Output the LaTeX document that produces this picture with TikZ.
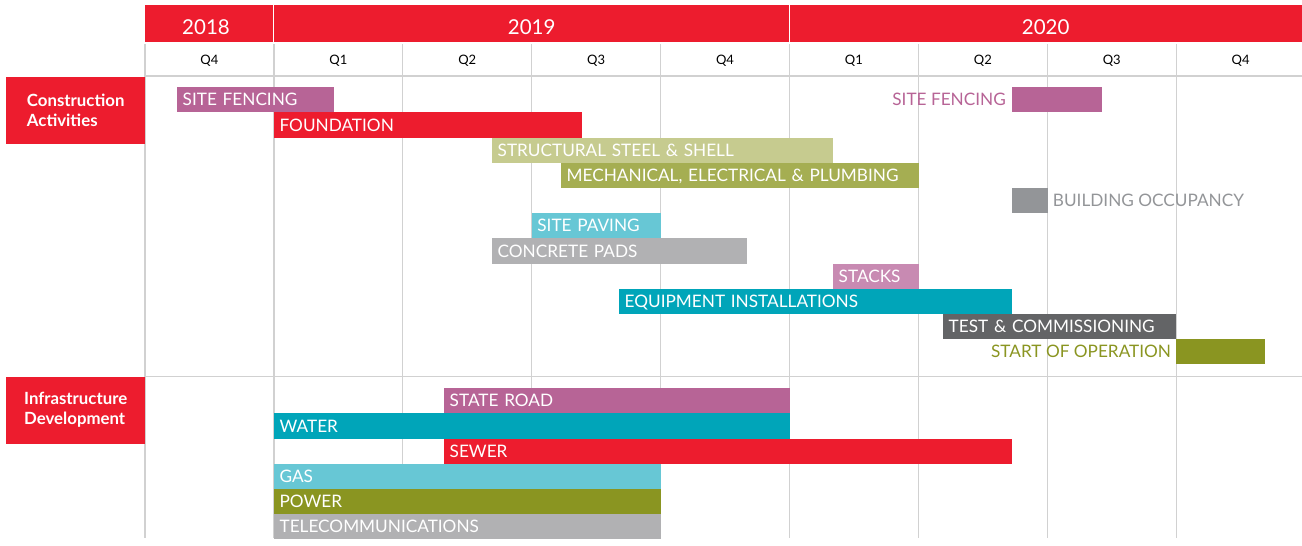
\documentclass[tikz,border=0pt]{standalone}
\usepackage{fontspec}
\setmainfont{Lato}
\definecolor{doDam}{RGB}{237,28,46}
\definecolor{tim}{RGB}{183,100,150}
\definecolor{oliuNhat}{RGB}{198,203,143}
\definecolor{oliu}{RGB}{165,174,82}
\definecolor{xamVua}{RGB}{147,149,152}
\definecolor{xanhNhat}{RGB}{103,199,213}
\definecolor{xamNhat}{RGB}{177,177,179}
\definecolor{hong}{RGB}{200,138,178}
\definecolor{xanhDam}{RGB}{0,165,185}
\definecolor{xamDam}{RGB}{99,100,102}
\definecolor{oliuDam}{RGB}{138,149,33}
\definecolor{xamLuoi}{RGB}{209,209,209}
\begin{document}
\begin{tikzpicture}[x=1pt,y=-1pt,line join=round,
	luoi/.style={draw=xamLuoi,line width=1.3pt},
	nam/.style={text=white,anchor=base,font=\fontsize{20.5}{24}\selectfont},
	quy/.style={text=black,anchor=base,font=\fontsize{13}{15}\selectfont},
	nhom/.style={fill=doDam,text=white,anchor=north west,align=left,inner sep=0pt,
		minimum width=139pt,minimum height=67pt,font=\bfseries\fontsize{16.8}{20}\selectfont},
	thanh/.style={anchor=north west,inner xsep=5.5pt,inner ysep=0pt,minimum height=25.2pt,
		text height=12.3pt,text depth=0pt,text=white,align=left,font=\fontsize{17.2}{19}\selectfont},
	ngoai/.style={inner sep=0pt,text height=12.3pt,text depth=0pt,font=\fontsize{17.2}{19}\selectfont}]
	%==Phần thông số lưới
	\def\xo{145}
	\def\q{128.9}
	\def\h{25.2}
	%==============
	\useasboundingbox (0,0) rectangle (1302,546);
	%==Lưới quý
	\foreach \i in {0,...,8}\draw[luoi] ({\xo+\q*\i},44)--({\xo+\q*\i},538);
	\draw[luoi] (\xo,76)--(1302,76) (\xo,376.5)--(1302,376.5);
	%==Dải năm
	\fill[doDam] (\xo,5) rectangle (1302,42);
	\draw[white,line width=1pt] ({\xo+\q},5)--({\xo+\q},42) ({\xo+5*\q},5)--({\xo+5*\q},42);
	\node[nam] (y2018) at (206,34.3) {2018};
	\node[nam] (y2019) at (531.7,34.3) {2019};
	\node[nam] (y2020) at (1045.7,34.3) {2020};
	\foreach \i/\t in {0/Q4,1/Q1,2/Q2,3/Q3,4/Q4,5/Q1,6/Q2,7/Q3,8/Q4}
		\node[quy] (q\i) at ({\xo+\q*(\i+0.5)},64.5) {\t};
	%==Nhóm
	\node[nhom] (xaydung) at (6,77) {Construction\\Activities};
	\node[nhom] (hatang) at (6,376.5) {Infrastructure\\Development};
	%==Thanh công việc
	\foreach \ten/\mau/\xa/\xb/\hang/\nhan in {
		fenceA/tim/177/334/0/SITE FENCING,
		foundation/doDam/273.9/582/1/FOUNDATION,
		steel/oliuNhat/492/833/2/STRUCTURAL STEEL \& SHELL,
		mep/oliu/561/918.4/3/{MECHANICAL, ELECTRICAL \& PLUMBING},
		occupancy/xamVua/1012/1047.3/4/{},
		paving/xanhNhat/531.7/660.6/5/SITE PAVING,
		pads/xamNhat/492/747/6/CONCRETE PADS,
		stacks/hong/833/918.4/7/STACKS,
		equipment/xanhDam/619/1012/8/EQUIPMENT INSTALLATIONS,
		test/xamDam/943/1176.2/9/TEST \& COMMISSIONING,
		startop/oliuDam/1176.2/1265/10/{},
		fenceB/tim/1012/1102/0/{}}{
		\pgfmathsetmacro\w{\xb-\xa-11}
		\node[thanh,fill=\mau,text width=\w pt] (\ten) at (\xa,{87+\h*\hang}) {\nhan};
	}
	\foreach \ten/\mau/\xa/\xb/\hang/\nhan in {
		road/tim/444/789.5/0/STATE ROAD,
		water/xanhDam/273.9/789.5/1/WATER,
		sewer/doDam/444/1012/2/SEWER,
		gas/xanhNhat/273.9/660.6/3/GAS,
		power/oliuDam/273.9/660.6/4/POWER,
		telecom/xamNhat/273.9/660.6/5/TELECOMMUNICATIONS}{
		\pgfmathsetmacro\w{\xb-\xa-11}
		\node[thanh,fill=\mau,text width=\w pt] (\ten) at (\xa,{388+\h*\hang}) {\nhan};
	}
	%==Nhãn ngoài thanh
	\node[ngoai,text=tim,anchor=east] (fenceB-t) at ([xshift=-6pt]fenceB.west) {SITE FENCING};
	\node[ngoai,text=xamVua,anchor=west] (occupancy-t) at ([xshift=5pt]occupancy.east) {BUILDING OCCUPANCY};
	\node[ngoai,text=oliuDam,anchor=east] (startop-t) at ([xshift=-5pt]startop.west) {START OF OPERATION};
\end{tikzpicture}
\end{document}
